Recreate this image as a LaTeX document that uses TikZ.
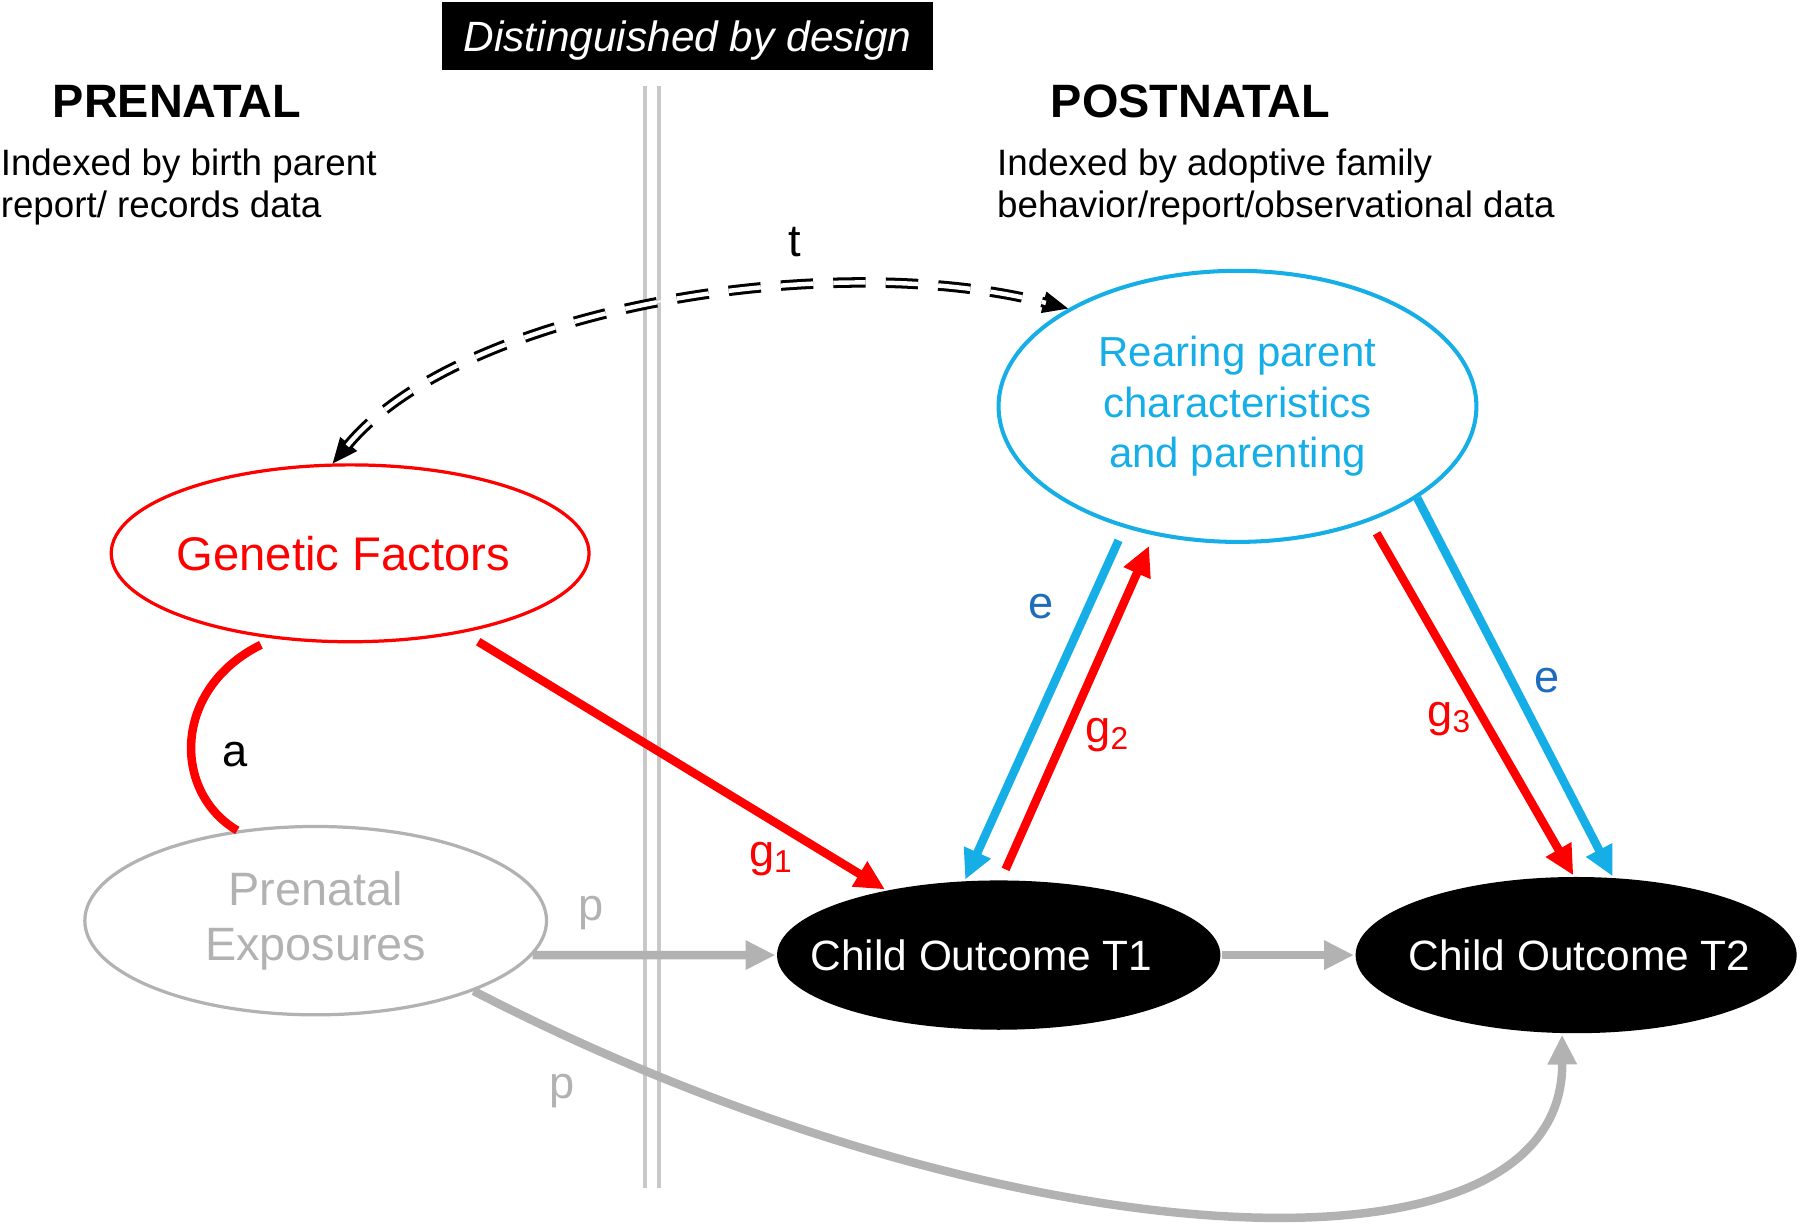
\documentclass[tikz,border=0pt]{standalone}
\usepackage{fontspec}
\setmainfont{Liberation Sans}
\usetikzlibrary{shapes.geometric,arrows.meta}
\definecolor{genred}{RGB}{255,0,0}
\definecolor{rearblue}{RGB}{22,174,230}
\definecolor{eblue}{RGB}{30,108,188}
\definecolor{pgrey}{RGB}{178,178,178}
\definecolor{divgrey}{RGB}{200,200,200}

\begin{document}
\begin{tikzpicture}[x=0.01cm, y=-0.01cm,
    oval/.style={ellipse, inner sep=0pt, line width=0.8pt, align=center},
    lab/.style={font=\fontsize{11.2}{13}\selectfont},
    tip/.style={-{Triangle[length=0.26cm,width=0.24cm]}},
    fat/.style={line width=2.1pt},
    tends/.style={{Triangle[color=black,fill=black,length=0.22cm,width=0.19cm]}-{Triangle[color=black,fill=black,length=0.22cm,width=0.19cm]}}]
    \useasboundingbox (0,0) rectangle (1568,1067);
    \node[fill=black, text=white, minimum width=4.28cm, minimum height=0.59cm, text depth=0pt, font=\itshape\fontsize{10.5}{12}\selectfont] (design) at (599,31.5) {Distinguished by design};
    \draw[divgrey, line width=0.85pt] (562,75) -- (562,1035) (574,75) -- (574,1035);
    \node[font=\bfseries\fontsize{11.6}{13}\selectfont] (prehead) at (154,88) {PRENATAL};
    \node[font=\bfseries\fontsize{11.6}{13}\selectfont] (posthead) at (1037,88) {POSTNATAL};
    \node[anchor=north west, align=left, inner sep=0pt, font=\fontsize{9.1}{10.5}\selectfont] (preidx) at (0,129) {Indexed by birth parent\\report/ records data};
    \node[anchor=north west, align=left, inner sep=0pt, font=\fontsize{9.1}{10.5}\selectfont] (postidx) at (868,129) {Indexed by adoptive family\\behavior/report/observational data};
    \node[oval, draw=genred, minimum width=4.16cm, minimum height=1.54cm, label={[text=genred, xshift=-0.06cm, font=\fontsize{11.7}{14}\selectfont]center:Genetic Factors}] (gen) at (305,482) {};
    \node[oval, draw=pgrey, text=pgrey, minimum width=4.02cm, minimum height=1.64cm, font=\fontsize{11.6}{13.7}\selectfont] (pre) at (275,802) {Prenatal\\Exposures};
    \node[oval, draw=rearblue, text=rearblue, line width=1pt, minimum width=4.16cm, minimum height=2.36cm, font=\fontsize{10.4}{12.5}\selectfont] (rear) at (1078,354) {Rearing parent\\characteristics\\and parenting};
    \node[oval, fill=black, minimum width=3.86cm, minimum height=1.3cm, label={[text=white, xshift=-0.15cm, font=\fontsize{10.5}{12}\selectfont]center:Child Outcome T1}] (ct1) at (870,832) {};
    \node[oval, fill=black, minimum width=3.84cm, minimum height=1.36cm, label={[text=white, xshift=0.03cm, font=\fontsize{10.5}{12}\selectfont]center:Child Outcome T2}] (ct2) at (1373,832) {};
    \draw[white, line width=0.4pt, tends] (gen.101) .. controls (400,270) and (720,215) .. (rear.150);
    \draw[double=white, double distance=1.1pt, line width=0.75pt, dash pattern=on 8pt off 5pt, shorten <=0.2cm, shorten >=0.2cm] (gen.101) .. controls (400,270) and (720,215) .. (rear.150);
    \draw[genred, fat, shorten <=0.12cm] (gen.-132) .. controls (150,600) and (150,690) .. (pre.131);
    \draw[genred, fat, tip, shorten <=0.15cm] (gen.-35) -- (ct1.150);
    \draw[pgrey, fat, tip] (pre.-9) -- (ct1.west);
    \draw[pgrey, fat, tip] (ct1.east) -- (ct2.west);
    \draw[pgrey, fat, tip] (pre.-24) .. controls (858,1094) and (1362,1133) .. (ct2.-100);
    \draw[rearblue, fat, tip, shorten <=0.12cm] (rear.-133) -- (ct1.114);
    \draw[genred, fat, tip, shorten <=0.09cm, shorten >=0.1cm] (ct1.88) -- (rear.-123);
    \draw[genred, fat, tip, shorten <=0.12cm] (rear.-41) -- (ct2.92);
    \draw[rearblue, fat, tip] (rear.-27) -- (ct2.65);
    \node[lab] (tl) at (692,211) {t};
    \node[lab] (al) at (205,657) {a};
    \node[lab, genred] (g1l) at (672,748) {g\textsubscript{1}};
    \node[lab, pgrey] (p1l) at (515,795) {p};
    \node[lab, pgrey] (p2l) at (490,950) {p};
    \node[lab, eblue] (e1l) at (907,528) {e};
    \node[lab, genred] (g2l) at (965,640) {g\textsubscript{2}};
    \node[lab, genred] (g3l) at (1263,626) {g\textsubscript{3}};
    \node[lab, eblue] (e2l) at (1348,593) {e};
\end{tikzpicture}
\end{document}
